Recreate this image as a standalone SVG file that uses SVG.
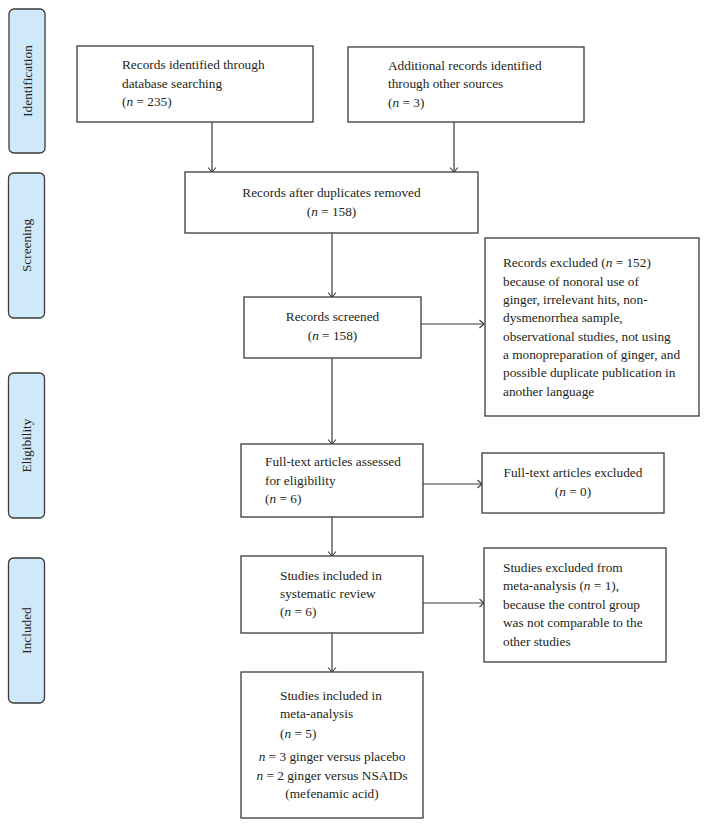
<svg xmlns="http://www.w3.org/2000/svg" width="707" height="827" viewBox="0 0 707 827">
<style>
  text { font-family: "Liberation Serif", "Times New Roman", serif; font-size: 13.3px; fill: #231f20; }
  .box { fill: #ffffff; stroke: #3a3a3a; stroke-width: 1.3; }
  .stage { fill: #cfe9fb; stroke: #3a3a3a; stroke-width: 1.3; }
  .c { text-anchor: middle; }
  .conn { stroke: #3a3a3a; stroke-width: 1.2; fill: none; marker-end: url(#arr); }
  .i { font-style: italic; }
</style>
<defs>
  <marker id="arr" viewBox="0 0 10 10" refX="9" refY="5" markerWidth="10" markerHeight="10" markerUnits="userSpaceOnUse" orient="auto">
    <path d="M4.5,1 L9,5 L4.5,9" fill="none" stroke="#3a3a3a" stroke-width="1.1"/>
  </marker>
</defs>
<rect width="707" height="827" fill="#ffffff"/>

<g id="stage-identification">
  <rect class="stage" x="9" y="9" width="36" height="144" rx="5"/>
  <text class="c" transform="translate(31.5,81) rotate(-90)">Identification</text>
</g>
<g id="stage-screening">
  <rect class="stage" x="8.5" y="173" width="36" height="145" rx="5"/>
  <text class="c" transform="translate(31,245.5) rotate(-90)">Screening</text>
</g>
<g id="stage-eligibility">
  <rect class="stage" x="8.5" y="373" width="36" height="145" rx="5"/>
  <text class="c" transform="translate(31,445.5) rotate(-90)">Eligibility</text>
</g>
<g id="stage-included">
  <rect class="stage" x="8.5" y="558" width="36" height="145" rx="5"/>
  <text class="c" transform="translate(31,630.5) rotate(-90)">Included</text>
</g>

<g id="connectors">
  <line class="conn" x1="212" y1="122" x2="212" y2="172"/>
  <line class="conn" x1="454" y1="122" x2="454" y2="172"/>
  <line class="conn" x1="332" y1="233" x2="332" y2="297"/>
  <line class="conn" x1="421" y1="324" x2="484" y2="324"/>
  <line class="conn" x1="332" y1="358" x2="332" y2="444"/>
  <line class="conn" x1="423" y1="484" x2="482" y2="484"/>
  <line class="conn" x1="332" y1="517" x2="332" y2="556"/>
  <line class="conn" x1="423" y1="603" x2="484" y2="603"/>
  <line class="conn" x1="332" y1="633" x2="332" y2="672"/>
</g>

<g id="n-database">
  <rect class="box" x="77" y="46" width="236" height="76"/>
  <text x="122" y="69">Records identified through</text>
  <text x="122" y="87.5">database searching</text>
  <text x="122" y="106">(<tspan class="i">n</tspan> = 235)</text>
</g>
<g id="n-other">
  <rect class="box" x="348" y="47" width="236" height="75"/>
  <text x="388" y="69.5">Additional records identified</text>
  <text x="388" y="88">through other sources</text>
  <text x="388" y="106.5">(<tspan class="i">n</tspan> = 3)</text>
</g>
<g id="n-duplicates">
  <rect class="box" x="185" y="172" width="293" height="61"/>
  <text class="c" x="331.5" y="197">Records after duplicates removed</text>
  <text class="c" x="331.5" y="216">(<tspan class="i">n</tspan> = 158)</text>
</g>
<g id="n-screened">
  <rect class="box" x="244" y="297" width="177" height="61"/>
  <text class="c" x="332.5" y="321">Records screened</text>
  <text class="c" x="332.5" y="340">(<tspan class="i">n</tspan> = 158)</text>
</g>
<g id="n-excluded">
  <rect class="box" x="485" y="238" width="214" height="178"/>
  <text x="503" y="267">Records excluded (<tspan class="i">n</tspan> = 152)</text>
  <text x="503" y="285.5">because of nonoral use of</text>
  <text x="503" y="304">ginger, irrelevant hits, non-</text>
  <text x="503" y="322">dysmenorrhea sample,</text>
  <text x="503" y="340.5">observational studies, not using</text>
  <text x="503" y="358.5">a monopreparation of ginger, and</text>
  <text x="503" y="377">possible duplicate publication in</text>
  <text x="503" y="395.5">another language</text>
</g>
<g id="n-fulltext">
  <rect class="box" x="241" y="444" width="182" height="73"/>
  <text x="265" y="466">Full-text articles assessed</text>
  <text x="265" y="484.5">for eligibility</text>
  <text x="265" y="502.5">(<tspan class="i">n</tspan> = 6)</text>
</g>
<g id="n-fulltext-excluded">
  <rect class="box" x="482" y="453" width="182" height="60"/>
  <text class="c" x="573" y="477">Full-text articles excluded</text>
  <text class="c" x="573" y="496">(<tspan class="i">n</tspan> = 0)</text>
</g>
<g id="n-systematic">
  <rect class="box" x="241" y="556" width="182" height="77"/>
  <text x="280" y="579.5">Studies included in</text>
  <text x="280" y="598">systematic review</text>
  <text x="280" y="616">(<tspan class="i">n</tspan> = 6)</text>
</g>
<g id="n-meta-excluded">
  <rect class="box" x="484" y="548" width="182" height="114"/>
  <text x="503" y="571.5">Studies excluded from</text>
  <text x="503" y="590">meta-analysis (<tspan class="i">n</tspan> = 1),</text>
  <text x="503" y="608.5">because the control group</text>
  <text x="503" y="627">was not comparable to the</text>
  <text x="503" y="645.5">other studies</text>
</g>
<g id="n-meta">
  <rect class="box" x="241" y="672" width="182" height="146"/>
  <text x="280" y="699.5">Studies included in</text>
  <text x="280" y="718">meta-analysis</text>
  <text x="280" y="737.5">(<tspan class="i">n</tspan> = 5)</text>
  <text class="c" x="332" y="761"><tspan class="i">n</tspan> = 3 ginger versus placebo</text>
  <text class="c" x="332" y="779.5"><tspan class="i">n</tspan> = 2 ginger versus NSAIDs</text>
  <text class="c" x="332" y="798">(mefenamic acid)</text>
</g>
</svg>
